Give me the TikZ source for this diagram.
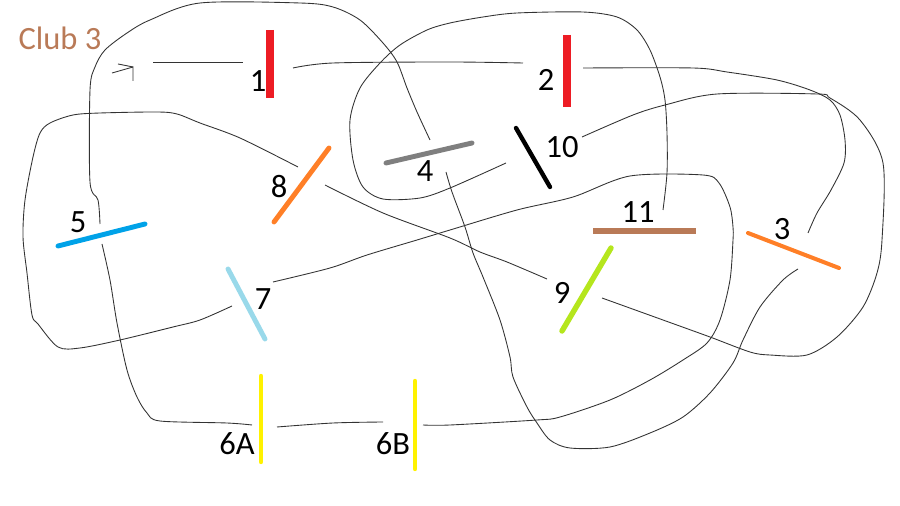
\documentclass[tikz,border=0pt]{standalone}
\usepackage{fontspec}
\setmainfont{Carlito}
\definecolor{gatered}{HTML}{ED1C24}
\definecolor{gateorange}{HTML}{FF7F27}
\definecolor{gateblue}{HTML}{00A2E8}
\definecolor{gategray}{HTML}{7F7F7F}
\definecolor{gatesky}{HTML}{99D9EA}
\definecolor{gatelime}{HTML}{B5E61D}
\definecolor{gateyellow}{HTML}{FFF200}
\definecolor{gatebrown}{HTML}{B97A57}
\tikzset{
	route/.style={draw=black!80, line width=0.5pt},
	gate/.style={line cap=round},
	lbl/.style={inner sep=0pt, font=\fontsize{18.5}{20}\selectfont}
}

\begin{document}
\begin{tikzpicture}[x=0.02cm, y=-0.02cm]
\useasboundingbox (0,0) rectangle (900,506);

\newcommand\drawGate[4]{\coordinate (g#1a) at (#2); \coordinate (g#1b) at (#3); \draw[gate, #4] (g#1a) -- (g#1b);}

\drawGate{1}{270,30}{270,98}{gatered, line width=5pt, line cap=butt}
\drawGate{2}{567,35}{567,107}{gatered, line width=4.5pt, line cap=butt}
\drawGate{3}{748,233}{839,268}{gateorange, line width=2.3pt}
\drawGate{4}{386,163}{472,143}{gategray, line width=2.8pt}
\drawGate{5}{58,246}{145,224}{gateblue, line width=2.8pt}
\drawGate{6A}{261,376}{261,462}{gateyellow, line width=2.5pt}
\drawGate{6B}{415,381}{415,469}{gateyellow, line width=2.5pt}
\drawGate{7}{228,269}{265,339}{gatesky, line width=2.8pt}
\drawGate{8}{274,222}{329,148}{gateorange, line width=2.8pt}
\drawGate{9}{562,331}{611,248}{gatelime, line width=3.1pt}
\drawGate{10}{516,128}{550,187}{black, line width=2.5pt}
\drawGate{11}{593,231}{696,231}{gatebrown, line width=3.4pt, line cap=butt}

\node[lbl, text=gatebrown] (club) at (60,38) {Club 3};
\node[lbl] (l1) at (258,81) {1};
\node[lbl] (l2) at (546,80) {2};
\node[lbl] (l3) at (782,229) {3};
\node[lbl] (l4) at (425,171) {4};
\node[lbl] (l5) at (78,222) {5};
\node[lbl] (l6A) at (237,444) {6A};
\node[lbl] (l6B) at (393,444) {6B};
\node[lbl] (l7) at (263,299) {7};
\node[lbl] (l8) at (279,187) {8};
\node[lbl] (l9) at (562,293) {9};
\node[lbl] (l10) at (562,147) {10};
\node[lbl] (l11) at (638,212) {11};

\coordinate (start) at (133,67);
\coordinate (0out) at (153,62);
\coordinate (1in) at (243,62);
\coordinate (1out) at (293,68);
\coordinate (2in) at (523,63);
\coordinate (2out) at (583,68);
\coordinate (3in) at (808,233);
\coordinate (3out) at (798,269);
\coordinate (4in) at (446,172);
\coordinate (4out) at (430,140);
\coordinate (5in) at (100,224);
\coordinate (5out) at (102,244);
\coordinate (6Ain) at (252,425);
\coordinate (6Aout) at (277,427);
\coordinate (6Bin) at (383,422);
\coordinate (6Bout) at (423,425);
\coordinate (7in) at (273,282);
\coordinate (7out) at (232,306);
\coordinate (8in) at (298,167);
\coordinate (8out) at (325,185);
\coordinate (9in) at (547,279);
\coordinate (9out) at (602,298);
\coordinate (10in) at (582,137);
\coordinate (10out) at (506,163);
\coordinate (11in) at (663,210);

\draw[route] (112,73) -- (start) -- (133,81);
\draw[route] (118,64) -- (start);
\draw[route] (0out) -- (1in);
\draw[route] plot[smooth] coordinates {(1out) (333,63) (450,62) (2in)};
\draw[route] plot[smooth] coordinates {(2out) (693,68) (727,72) (777,80) (810,90) (830,100) (840,115) (845,140) (844,163) (831,190) (817,213) (3in)};
\draw[route] plot[smooth] coordinates {(3out) (783,280) (760,307) (743,340) (733,363) (710,393) (683,417) (650,433) (610,447) (570,448) (550,440) (537,423) (527,407) (513,377) (510,357) (500,320) (483,277) (473,253) (465,227) (452,192) (4in)};
\draw[route] plot[smooth] coordinates {(4out) (417,112) (407,88) (397,62) (383,43) (360,20) (333,7) (300,3) (200,3) (150,20) (127,33) (105,50) (95,67) (90,90) (90,182) (98,200) (5in)};
\draw[route] plot[smooth] coordinates {(5out) (110,280) (117,323) (127,370) (137,397) (147,413) (160,421) (227,423) (6Ain)};
\draw[route] plot[smooth] coordinates {(6Aout) (333,423) (6Bin)};
\draw[route] plot[smooth] coordinates {(6Bout) (450,425) (537,420) (560,417) (610,400) (650,380) (683,360) (707,343) (720,320) (730,280) (733,240) (733,227) (730,207) (719,183) (703,175) (630,176) (573,197) (517,210) (450,230) (417,240) (367,255) (330,268) (7in)};
\draw[route] plot[smooth] coordinates {(7out) (200,320) (173,327) (120,340) (80,348) (58,347) (38,324) (32,315) (27,273) (23,237) (25,200) (33,157) (40,133) (50,123) (73,115) (100,113) (157,112) (177,114) (200,123) (240,138) (8in)};
\draw[route] plot[smooth] coordinates {(8out) (383,213) (450,238) (480,252) (507,262) (9in)};
\draw[route] plot[smooth] coordinates {(9out) (663,320) (710,337) (750,352) (770,355) (807,355) (837,337) (863,307) (877,273) (882,240) (883,163) (860,120) (830,98) (817,94) (717,94) (665,105) (633,115) (10in)};
\draw[route] plot[smooth] coordinates {(10out) (450,188) (420,198) (383,199) (363,187) (353,160) (350,120) (360,88) (380,63) (400,45) (427,30) (450,23) (483,17) (517,13) (583,12) (617,17) (637,30) (650,50) (660,77) (665,100) (667,133) (667,173) (11in)};
\end{tikzpicture}
\end{document}
